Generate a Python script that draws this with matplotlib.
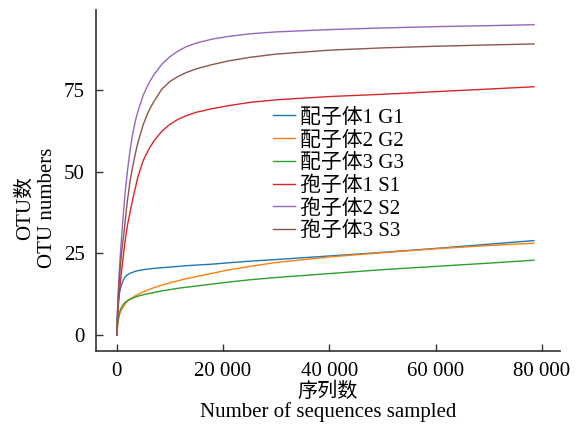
import matplotlib
matplotlib.use("Agg")
import matplotlib.pyplot as plt

FAM = ['Liberation Serif', 'Noto Sans CJK SC']
plt.rcParams['font.family'] = FAM

x = [0, 150, 300, 500, 700, 1000, 1300, 1600, 2000, 2500, 3000, 3500, 4000,
     5000, 6000, 7000, 8500, 10000, 11500, 13000, 15000, 18000, 21000, 25000,
     30000, 40000, 50000, 60000, 70000, 78500]

g1 = [0, 6, 10, 12.8, 14.3, 15.8, 17, 17.8, 18.4, 18.9, 19.2, 19.5, 19.7,
      20, 20.2, 20.4, 20.6, 20.8, 21, 21.2, 21.4, 21.7, 22.1, 22.6,
      23.1, 24.2, 25.3, 26.5, 27.8, 28.9]
g2 = [0, 2.5, 4.5, 6, 7, 8, 8.8, 9.5, 10.3, 11, 11.5, 12, 12.4,
      13.2, 13.9, 14.5, 15.3, 16.0, 16.6, 17.2, 17.9, 18.9, 19.9, 21.0,
      22.2, 23.9, 25.2, 26.4, 27.4, 28.1]
g3 = [0, 3, 5, 6.7, 7.8, 8.8, 9.5, 10, 10.5, 10.9, 11.3, 11.6, 11.9,
      12.3, 12.7, 13, 13.5, 13.9, 14.3, 14.6, 15, 15.6, 16.2, 16.9,
      17.6, 18.8, 20, 21, 22, 22.9]
s1 = [0, 5, 9, 13, 16.5, 21, 25, 29, 33.5, 37.5, 41.5, 45, 48.5,
      53.5, 56.8, 59.4, 62.4, 64.5, 66.0, 67.1, 68.2, 69.3, 70.2, 71.2,
      72, 73, 73.7, 74.5, 75.3, 76]
s2 = [0, 8, 14, 20, 25, 32, 38, 44, 50, 56.5, 61.5, 65.5, 68.5,
      73.5, 77.0, 79.7, 82.9, 85.2, 86.9, 88.2, 89.4, 90.6, 91.4, 92.2,
      92.8, 93.5, 94, 94.4, 94.7, 95]
s3 = [0, 7, 12, 17, 21.5, 26.5, 30.5, 35, 41, 47, 51.5, 55.5, 59,
      64.5, 68.5, 71.5, 75.3, 77.6, 79.1, 80.3, 81.5, 82.8, 83.9, 85,
      86, 87.2, 87.9, 88.4, 88.8, 89.1]

labels = ['配子体1 G1', '配子体2 G2', '配子体3 G3', '孢子体1 S1', '孢子体2 S2', '孢子体3 S3']
series = [g1, g2, g3, s1, s2, s3]
colors = ['#1f77b4', '#ff7f0e', '#2ca02c', '#d62728', '#9467bd', '#8c564b']

xticks = [0, 20000, 40000, 60000, 80000]
xticklabels = ['0', '20 000', '40 000', '60 000', '80 000']
yticks = [0, 25, 50, 75]

W, H = 579, 424
fig = plt.figure(figsize=(W / 100, H / 100), dpi=100)
ax = fig.add_axes([96 / W, 1 - 351 / H, (560 - 96) / W, (351 - 10) / H])

for y, lab, c in zip(series, labels, colors):
    ax.plot(x, y, color=c, lw=1.0, label=lab)

ax.set_xlim(-3900, 83400)
ax.set_ylim(-4.9, 99.5)
ax.set_xticks(xticks)
ax.set_xticklabels(xticklabels)
ax.set_yticks(yticks)
for s in ['top', 'right']:
    ax.spines[s].set_visible(False)
for s in ['left', 'bottom']:
    ax.spines[s].set_color('#333333')
    ax.spines[s].set_linewidth(1.2)
ax.tick_params(direction='in', length=5, width=1.0, color='#333333',
               labelsize=15, pad=8)

leg = ax.legend(loc='upper left', bbox_to_anchor=(269 / W, 1 - 104 / H),
                bbox_transform=fig.transFigure, frameon=False,
                fontsize=15, handlelength=1.06, handletextpad=0.25,
                labelspacing=0.15, borderpad=0.2, borderaxespad=0)

fig.text(328 / W, 1 - 392 / H, '序列数', ha='center', va='center',
         fontsize=14.5, family=FAM)
fig.text(328 / W, 1 - 412 / H, 'Number of sequences sampled', ha='center',
         va='center', fontsize=15, family=FAM)
fig.text(25 / W, 1 - 208 / H, 'OTU数', ha='center', va='center',
         rotation=90, fontsize=15, family=FAM)
fig.text(47 / W, 1 - 208 / H, 'OTU numbers', ha='center', va='center',
         rotation=90, fontsize=15, family=FAM)

fig.savefig('out.png', dpi=100)
